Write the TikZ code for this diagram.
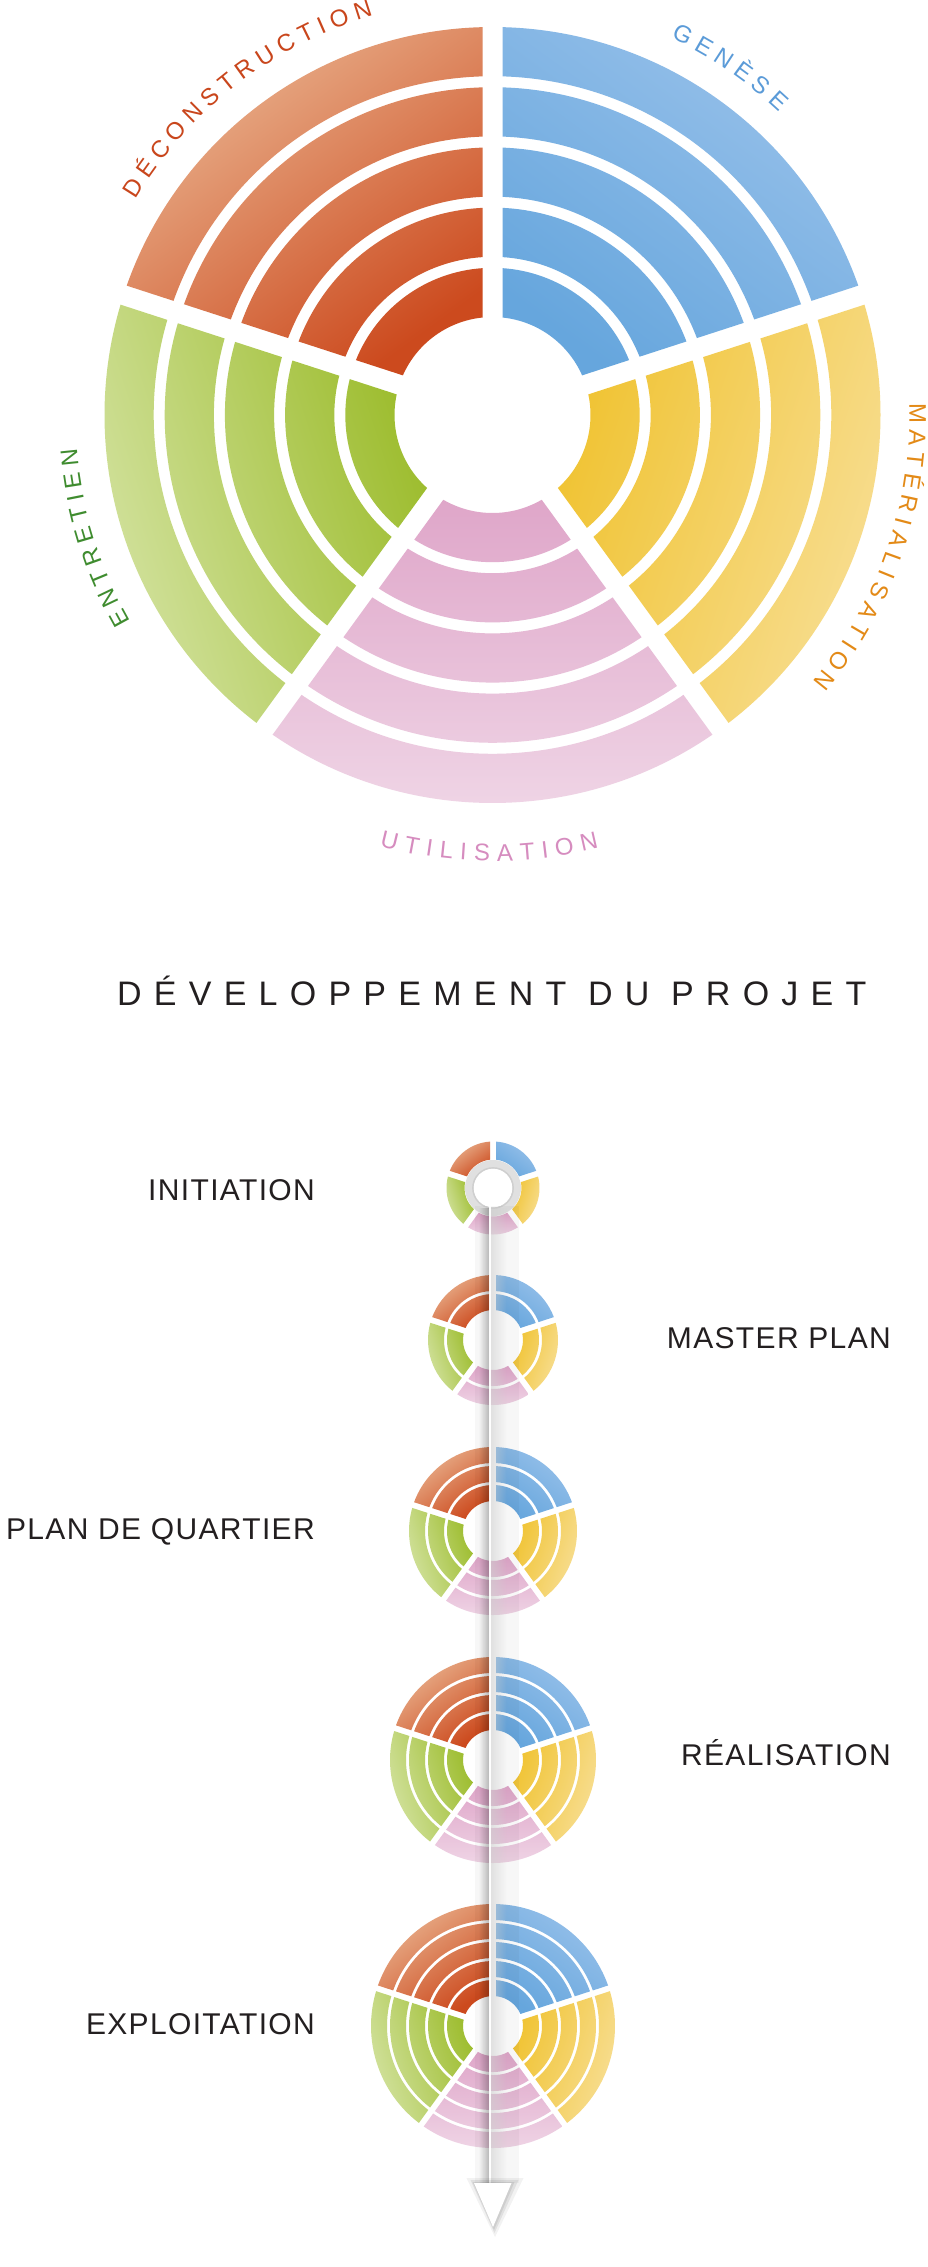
\documentclass[tikz,border=0pt]{standalone}
\usepackage{fontspec}
\setmainfont{Liberation Sans}
\newfontfamily\titlefont[LetterSpace=36]{Liberation Sans}
\newfontfamily\stagefont[LetterSpace=4.5]{Liberation Sans}
\newfontfamily\arcfont{Liberation Sans}
\usetikzlibrary{fadings}

\definecolor{redIn}{HTML}{CC4A1E}
\definecolor{redOut}{HTML}{EAB591}
\definecolor{bluIn}{HTML}{66A6DD}
\definecolor{bluOut}{HTML}{98C1EA}
\definecolor{yelIn}{HTML}{F0C332}
\definecolor{yelOut}{HTML}{F8E09A}
\definecolor{pinIn}{HTML}{DFA6C9}
\definecolor{pinOut}{HTML}{F0D7E7}
\definecolor{grnIn}{HTML}{9CBC2C}
\definecolor{grnOut}{HTML}{D7E5A8}
\definecolor{tRed}{HTML}{C9461C}
\definecolor{tBlue}{HTML}{5B9BD8}
\definecolor{tOrange}{HTML}{E38A17}
\definecolor{tPink}{HTML}{D68CBF}
\definecolor{tGreen}{HTML}{3F8C2F}
\definecolor{ink}{HTML}{231F20}
\definecolor{tubegray}{HTML}{CFCFCF}

\tikzfading[name=fadeToRight, left color=transparent!0, right color=transparent!100]
\tikzfading[name=fadeToLeft, left color=transparent!100, right color=transparent!0]

% #1 centre, #2 rings, #3 hole, #4 band, #5 gap, #6 half separation, #7 start angle, #8 inner colour, #9 outer colour
\newcommand\wheelsector[9]{%
  \begin{scope}[shift={(#1)}]
    \pgfmathsetmacro\shang{#7-54}
    \shade[top color=#9, bottom color=#8, shading angle=\shang]
      \foreach \i [evaluate=\i as \ra using {#3+(\i-1)*(#4+#5)},
                   evaluate=\i as \rb using {#3+(\i-1)*(#4+#5)+#4},
                   evaluate=\i as \da using {asin(#6/(#3+(\i-1)*(#4+#5)))},
                   evaluate=\i as \db using {asin(#6/(#3+(\i-1)*(#4+#5)+#4))}] in {1,...,#2}
      { (#7+\db:\rb pt) arc[start angle=#7+\db, end angle=#7+72-\db, radius=\rb pt]
        -- (#7+72-\da:\ra pt) arc[start angle=#7+72-\da, end angle=#7+\da, radius=\ra pt] -- cycle };
  \end{scope}}

\newcommand\wheel[6]{% #1 centre, #2 rings, #3 hole, #4 band, #5 gap, #6 half sep
  \wheelsector{#1}{#2}{#3}{#4}{#5}{#6}{18}{bluIn}{bluOut}
  \wheelsector{#1}{#2}{#3}{#4}{#5}{#6}{90}{redIn}{redOut}
  \wheelsector{#1}{#2}{#3}{#4}{#5}{#6}{162}{grnIn}{grnOut}
  \wheelsector{#1}{#2}{#3}{#4}{#5}{#6}{234}{pinIn}{pinOut}
  \wheelsector{#1}{#2}{#3}{#4}{#5}{#6}{306}{yelIn}{yelOut}}

% letters set one by one on a circle
% #1 baseline radius, #2 angle of first letter's left edge, #3 direction (1 ccw, -1 cw),
% #4 tracking, #5 font size, #6 colour, #7 name prefix, #8 list letter/width
\newcommand\arcword[8]{%
  \gdef\gS{0}%
  \foreach \ch/\w [count=\k] in {#8} {%
    \pgfmathsetmacro\wS{\w/1000*#5}%
    \pgfmathsetmacro\midS{\gS + \wS/2}%
    \pgfmathsetmacro\angS{#2 + #3*(\midS/#1)*57.29578}%
    \pgfmathsetmacro\rotS{\angS + #3*90}%
    \node[inner sep=0pt, anchor=base, rotate=\rotS, text=#6,
          font=\arcfont\fontsize{#5}{#5}\selectfont] (#7\k) at (\angS:#1 pt) {\ch};%
    \pgfmathsetmacro\tmpS{\gS + \wS + #4}%
    \global\let\gS\tmpS
  }}

\tikzset{
  stage/.style={inner sep=0pt, text=ink, font=\stagefont\fontsize{30}{30}\selectfont},
}

\begin{document}
\begin{tikzpicture}[x=1pt, y=1pt]
\useasboundingbox (0,0) rectangle (928,-2267);
\fill[white] (0,0) rectangle (928,-2267);

% ---------- main wheel ----------
\coordinate (M) at (492.5,-415);
\wheel{M}{5}{98}{49.2}{11}{10}

\begin{scope}[shift={(M)}]
  \arcword{417}{148.9}{-1}{6.24}{24}{tRed}{dec}
    {D/722,É/667,C/722,O/778,N/722,S/667,T/611,R/722,U/722,C/722,T/611,I/278,O/778,N/722}
  \arcword{417}{64.7}{-1}{6.32}{24}{tBlue}{gen}
    {G/778,E/667,N/722,È/667,S/667,E/667}
  \arcword{417}{1.64}{-1}{6.16}{24}{tOrange}{mat}
    {M/833,A/667,T/611,É/667,R/722,I/278,A/667,L/556,I/278,S/667,A/667,T/611,I/278,O/778,N/722}
  \arcword{446}{-104.7}{1}{7.4}{24}{tPink}{uti}
    {U/722,T/611,I/278,L/556,I/278,S/667,A/667,T/611,I/278,O/778,N/722}
  \arcword{417}{209.7}{-1}{5.82}{24}{tGreen}{ent}
    {E/667,N/722,T/611,R/722,E/667,T/611,I/278,E/667,N/722}
\end{scope}

% ---------- title ----------
\node[anchor=base west, inner sep=0pt, text=ink, font=\titlefont\fontsize{34}{34}\selectfont] (title) at (117,-1005) {DÉVELOPPEMENT DU PROJET};

% ---------- small wheels ----------
\coordinate (C1) at (493,-1188);
\coordinate (C2) at (493,-1340);
\coordinate (C3) at (493,-1531);
\coordinate (C4) at (493,-1760);
\coordinate (C5) at (493,-2026);

\wheel{C1}{1}{28.5}{18}{3}{3}
\wheel{C2}{2}{30}{16}{3}{3}
\wheel{C3}{3}{30}{16}{3}{3}
\wheel{C4}{4}{30}{16}{3}{3}
\wheel{C5}{5}{30}{16}{3}{3}

% ring of the pin at the top
\fill[tubegray!65, even odd rule] (C1) circle (28pt) (C1) circle (19.5pt);
\draw[tubegray, line width=1.4pt] (C1) circle (20.2pt);

% ---------- stem and arrow ----------
\coordinate (stemtop) at (492.5,-1206);
\coordinate (stembot) at (492.5,-2183);
\coordinate (tip) at (493,-2227);
\fill[black, opacity=0.03] ([xshift=-18pt]stemtop) rectangle ([xshift=26pt]stembot);
\fill[black, opacity=0.24, path fading=fadeToLeft] ([xshift=-14pt]stemtop) rectangle ([xshift=-4pt]stembot);
\fill[white, opacity=0.95] ([xshift=-4pt]stemtop) rectangle ([xshift=-1.5pt]stembot);
\fill[tubegray, opacity=0.55, path fading=fadeToRight] ([xshift=-1.5pt]stemtop) rectangle ([xshift=14pt]stembot);

\fill[black, opacity=0.05] ([xshift=-26pt,yshift=5pt]stembot) -- ([xshift=31pt,yshift=5pt]stembot) -- ([xshift=2pt,yshift=-10pt]tip) -- cycle;
\fill[black, opacity=0.07] ([xshift=-22pt,yshift=3pt]stembot) -- ([xshift=26pt,yshift=3pt]stembot) -- ([xshift=1.5pt,yshift=-6pt]tip) -- cycle;
\fill[black, opacity=0.08] ([xshift=-20pt,yshift=1pt]stembot) -- ([xshift=22pt,yshift=1pt]stembot) -- ([xshift=1pt,yshift=-3pt]tip) -- cycle;
\fill[white] ([xshift=-18.5pt]stembot) -- ([xshift=19pt]stembot) -- (tip) -- cycle;

% ---------- stage labels ----------
\node[stage, anchor=base east] (lInit) at (315,-1200) {INITIATION};
\node[stage, anchor=base east] (lMaster) at (891,-1348) {MASTER PLAN};
\node[stage, anchor=base east] (lPlan) at (315,-1539) {PLAN DE QUARTIER};
\node[stage, anchor=base east] (lReal) at (891,-1765.5) {RÉALISATION};
\node[stage, anchor=base east] (lExpl) at (315,-2034) {EXPLOITATION};
\end{tikzpicture}
\end{document}
